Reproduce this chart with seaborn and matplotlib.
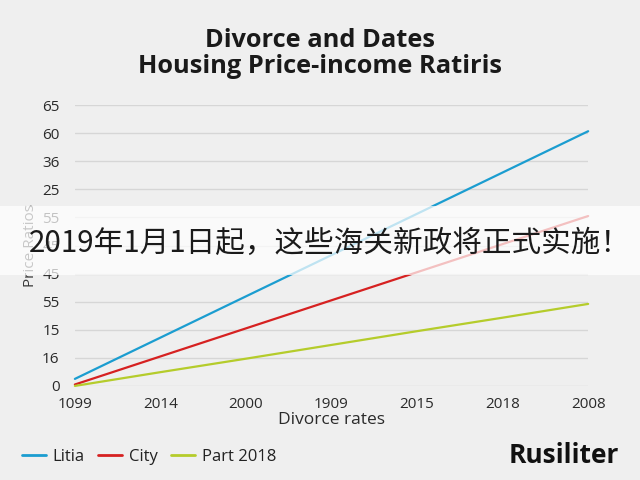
import matplotlib
matplotlib.use('Agg')
import matplotlib.pyplot as plt
import pandas as pd
import seaborn as sns
from matplotlib.patches import Rectangle
from matplotlib.lines import Line2D

# Chart data
x_labels = ['1099', '2014', '2000', '1909', '2015', '2018', '2008']
y_labels = ['0', '16', '15', '55', '45', '45', '55', '25', '36', '60', '65']
litia = [0.25, 1.72, 3.19, 4.66, 6.13, 7.60, 9.07]
city = [0.05, 1.05, 2.05, 3.05, 4.05, 5.05, 6.05]
part_2018 = [0.0, 0.49, 0.97, 1.46, 1.95, 2.43, 2.92]
series_names = ['Litia', 'City', 'Part 2018']
colors = ['#1b9dd0', '#d62121', '#b5cc2b']

rows = []
for name, vals in zip(series_names, [litia, city, part_2018]):
    for i, v in enumerate(vals):
        rows.append({'x': i, 'value': v, 'series': name})
df = pd.DataFrame(rows)

sns.set_theme(style='whitegrid')
plt.rcParams['font.family'] = ['Open Sans', 'Noto Sans CJK SC', 'DejaVu Sans']

bg = '#efefef'
fig = plt.figure(figsize=(6.4, 4.8), dpi=100, facecolor=bg)
ax = fig.add_axes([0.117, 0.196, 0.802, 0.585], facecolor=bg)

sns.lineplot(data=df, x='x', y='value', hue='series', palette=colors,
             linewidth=1.6, ax=ax, legend=False)
for ln in ax.lines:
    ln.set_clip_on(False)

ax.set_xlim(0, 6)
ax.set_ylim(0, 10)
ax.set_xticks(range(len(x_labels)))
ax.set_xticklabels(x_labels)
ax.set_yticks(range(len(y_labels)))
ax.set_yticklabels(y_labels)
ax.tick_params(axis='both', labelsize=11, colors='#2a2a2a', length=0)
ax.tick_params(axis='y', pad=11)
ax.tick_params(axis='x', pad=8)
ax.grid(axis='y', color='#d6d6d6', linewidth=1)
ax.grid(axis='x', visible=False)
for s in ax.spines.values():
    s.set_visible(False)

ax.set_xlabel('Divorce rates', fontsize=12.5, color='#2a2a2a', labelpad=0)
ax.set_ylabel('Price Ratios', fontsize=11, color='#3a3a3a', labelpad=3)

fig.text(0.5, 0.915, 'Divorce and Dates', ha='center', va='center',
         fontsize=18.3, fontweight='bold', color='#1a1a1a')
fig.text(0.5, 0.862, 'Housing Price-income Ratiris', ha='center', va='center',
         fontsize=18.3, fontweight='bold', color='#1a1a1a')

# Legend at the bottom left
handles = [Line2D([0], [0], color=c, linewidth=2) for c in colors]
fig.legend(handles, series_names, loc='center left', bbox_to_anchor=(0.034, 0.048),
           ncol=3, frameon=False, fontsize=12, handlelength=1.45,
           handletextpad=0.4, columnspacing=0.8, labelcolor='#222222',
           borderaxespad=0, borderpad=0)

fig.text(0.967, 0.052, 'Rusiliter', ha='right', va='center', fontsize=19,
         fontweight='bold', color='#111111')

# White banner overlay with Chinese caption
fig.patches.append(Rectangle((0, 0.427), 1, 0.144, transform=fig.transFigure,
                             facecolor='white', alpha=0.72, edgecolor='none',
                             zorder=10))
fig.text(0.516, 0.494, '2019年1月1日起，这些海关新政将正式实施！', ha='center',
         va='center', fontsize=21.3, color='#1a1a1a', zorder=11,
         family=['Noto Sans CJK SC', 'DejaVu Sans'])

fig.savefig('out.png', dpi=100, facecolor=bg)
